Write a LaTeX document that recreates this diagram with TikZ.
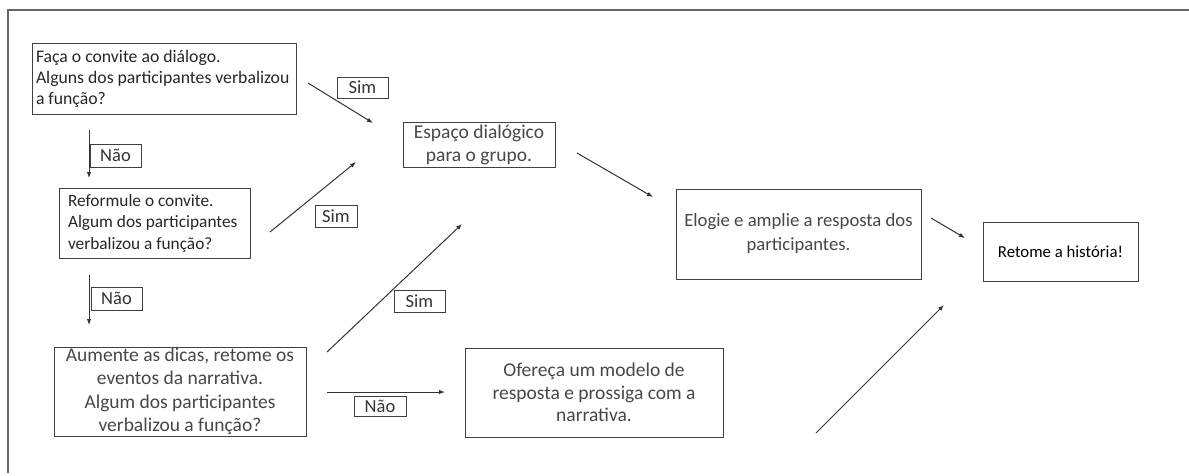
\documentclass[tikz,border=0pt]{standalone}
\usepackage{fontspec}
\setmainfont{Carlito}
\usetikzlibrary{arrows.meta}
\begin{document}
\begin{tikzpicture}[x=1pt,y=-1pt,
  box/.style={draw=black!75, line width=0.9pt, inner sep=0pt, text=black!72},
  lbl/.style={draw=black!75, line width=0.9pt, inner sep=0pt, text=black!80, font=\fontsize{18.5}{20}\selectfont},
  arr/.style={draw=black!80, line width=1pt, -{Latex[length=6pt,width=4.5pt]}},
  framel/.style={draw=black!60, line width=1.5pt}]

\useasboundingbox (0,0) rectangle (1189,475);

% frame
\coordinate (fR) at (1189,10);
\coordinate (fC) at (8,10);
\coordinate (fB) at (8,473);
\draw[framel] (fR) -- (fC) -- (fB);

% boxes
\node[box, minimum width=264pt, minimum height=71pt, align=left, text=black!85,
      font=\fontsize{17.7}{21}\selectfont] (b1) at (164,78.5)
  {\makebox[256pt][l]{Faça o convite ao diálogo.}\\Alguns dos participantes verbalizou\\a função?};
\node[box, minimum width=191pt, minimum height=70pt, align=left, text=black!85,
      font=\fontsize{17.3}{21.5}\selectfont] (b2) at (154.5,223)
  {\makebox[173pt][l]{Reformule o convite.}\\Algum dos participantes\\verbalizou a função?};
\node[box, minimum width=252pt, minimum height=89pt, align=center,
      font=\fontsize{19.5}{23.5}\selectfont] (b3) at (180,391.5)
  {Aumente as dicas, retome os\\eventos da narrativa.\\Algum dos participantes\\verbalizou a função?};
\node[box, minimum width=258pt, minimum height=89pt, align=center,
      font=\fontsize{19.5}{22.5}\selectfont] (b4) at (594,392.5)
  {Ofereça um modelo de\\resposta e prossiga com a\\narrativa.};
\node[box, minimum width=152pt, minimum height=45pt, align=center,
      font=\fontsize{19.5}{23}\selectfont] (esp) at (479,144.5)
  {Espaço dialógico\\para o grupo.};
\node[box, minimum width=245pt, minimum height=90pt, align=center,
      font=\fontsize{18.7}{24}\selectfont] (elo) at (798.5,234)
  {Elogie e amplie a resposta dos\\participantes.};
\node[box, minimum width=155pt, minimum height=59pt, align=center, text=black,
      font=\fontsize{16.75}{20}\selectfont] (ret) at (1060.5,251.5)
  {Retome a história!};

% labels
\node[lbl, minimum width=51pt, minimum height=23pt] (n1) at (115.5,155.5) {Não};
\node[lbl, minimum width=51pt, minimum height=23pt] (n2) at (116.5,298.5) {Não};
\node[lbl, minimum width=52pt, minimum height=20pt] (n3) at (380,406.5) {Não};
\node[lbl, minimum width=51pt, minimum height=21pt] (s1) at (362.5,87.5) {Sim};
\node[lbl, minimum width=42pt, minimum height=22pt] (s2) at (336,216) {Sim};
\node[lbl, minimum width=51pt, minimum height=22pt] (s3) at (419.5,301) {Sim};

% arrow end points
\coordinate (a1s) at (308,83);   \coordinate (a1e) at (373,123);
\coordinate (a2s) at (270,232);  \coordinate (a2e) at (356,162);
\coordinate (a3s) at (327,352);  \coordinate (a3e) at (462,224);
\coordinate (n1s) at (89,130);   \coordinate (n1e) at (89,178);
\coordinate (n2s) at (89,275);   \coordinate (n2e) at (89,325);
\coordinate (n3s) at (327,392);  \coordinate (n3e) at (445,392);
\coordinate (e1s) at (577,153);  \coordinate (e1e) at (653,197);
\coordinate (e2s) at (931,218);  \coordinate (e2e) at (965,238);
\coordinate (e3s) at (816,433);  \coordinate (e3e) at (944,305);

\draw[arr] (a1s) -- (a1e);
\draw[arr] (a2s) -- (a2e);
\draw[arr] (a3s) -- (a3e);
\draw[arr] (n1s) -- (n1e);
\draw[arr] (n2s) -- (n2e);
\draw[arr] (n3s) -- (n3e);
\draw[arr] (e1s) -- (e1e);
\draw[arr] (e2s) -- (e2e);
\draw[arr] (e3s) -- (e3e);
\end{tikzpicture}
\end{document}
